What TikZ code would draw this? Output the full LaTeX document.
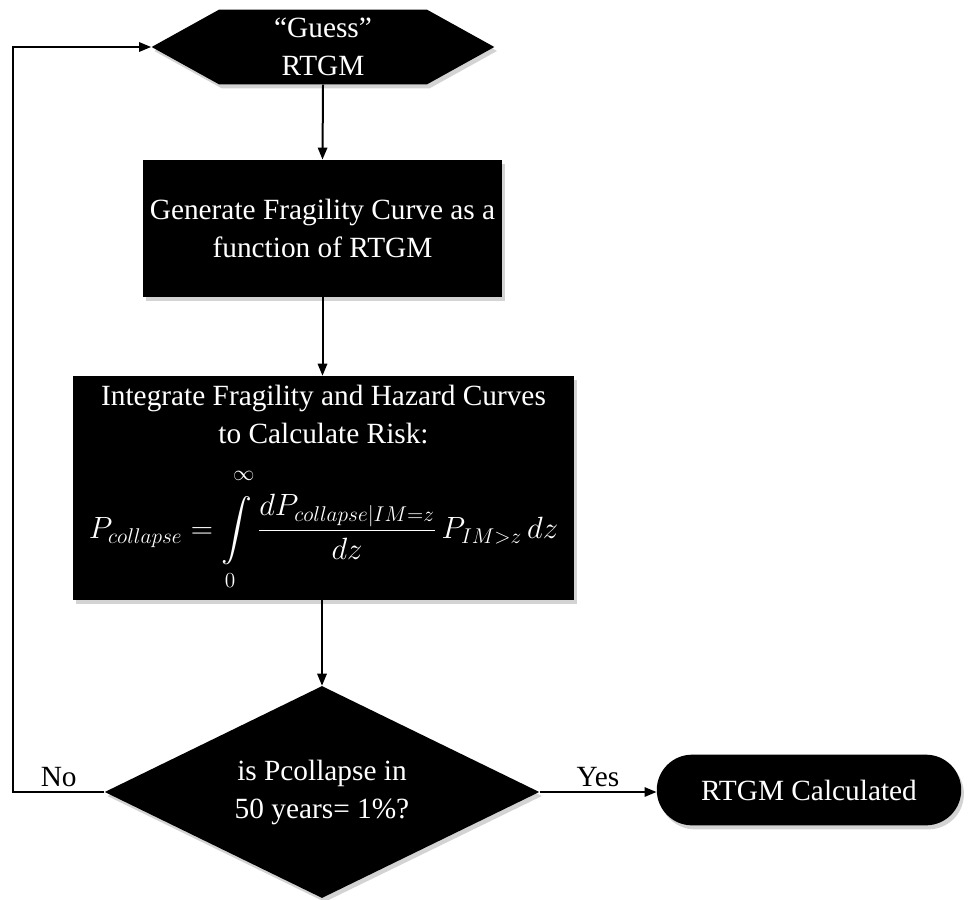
\documentclass[tikz,border=0pt]{standalone}
\usepackage{amsmath}
\usepackage{graphicx}
\usepackage{fontspec}
\setmainfont{Liberation Serif}
\usetikzlibrary{shapes.geometric, shapes.symbols, shapes.misc, arrows.meta, shadows}

\begin{document}
\begin{tikzpicture}[
        x=0.75pt, y=-0.75pt,
        blk/.style={draw=none, fill=black, text=white, align=center,
                    font=\fontsize{22}{28.5}\selectfont,
                    drop shadow={shadow xshift=2pt, shadow yshift=-3pt, opacity=0.35}},
        stepbox/.style={blk, rectangle, minimum width=#1, inner sep=2pt},
        arrow/.style={-{Triangle[length=9pt, width=7pt]}, line width=1.5pt},
        label/.style={font=\fontsize{22}{26}\selectfont, above, inner sep=3pt}
    ]
        \useasboundingbox (0,0) rectangle (969,899);

        % Nodes
        \node[blk, signal, signal to=west and east, signal pointer angle=58,
              minimum width=257pt, minimum height=56pt, inner sep=0pt] (guess) at (323,47)
              {``Guess''\\RTGM};
        \node[stepbox=269pt, minimum height=103pt] (fragility) at (322.5,228.5)
              {Generate Fragility Curve as a\\function of RTGM};
        \node[stepbox=376pt, minimum height=168pt] (risk) at (323.5,488)
              {Integrate Fragility and Hazard Curves\\to Calculate Risk:\\[17pt]
               \resizebox{352pt}{!}{$\displaystyle P_{collapse}=\int\limits_{\raisebox{-3pt}{$\scriptstyle 0$}}^{\raisebox{7pt}{$\scriptstyle\infty$}}
               \frac{dP_{collapse|IM=z}}{dz}\,P_{IM>z}\,dz$}};
        \node[blk, diamond, minimum width=326pt, minimum height=159pt, aspect=2,
              inner sep=0pt] (check) at (322,792)
              {is Pcollapse in\\50 years= 1\%?};
        \node[blk, rounded rectangle, minimum width=235pt, minimum height=53pt] (done)
              at (809,790) {RTGM Calculated};
        \coordinate (loop) at (13,792);

        % Arrows
        \draw[arrow] (guess.south) -- (fragility.north);
        \draw[arrow] (fragility.south) -- (fragility.south |- risk.north);
        \draw[arrow] (risk.south -| check.north) -- (check.north);
        \draw[arrow] (check.east) -- node[label] {Yes} (check.east -| done.west);
        \draw[arrow] (check.west) -- node[label] {No} (loop) |- (guess.west);
    \end{tikzpicture}
\end{document}
